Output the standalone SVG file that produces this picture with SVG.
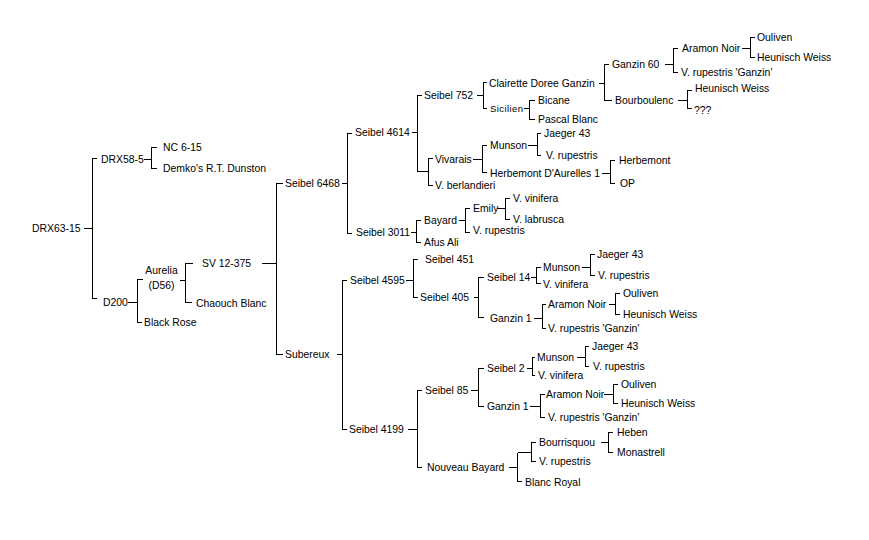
<svg xmlns="http://www.w3.org/2000/svg" width="869" height="540" viewBox="0 0 869 540">
<style>
text{font-family:"Liberation Sans",Arial,sans-serif;font-size:10.4px;fill:#000}
.s{font-size:9.6px;letter-spacing:0.4px}
#connectors path{fill:none;stroke:#000;stroke-width:1;shape-rendering:crispEdges}
</style>
<rect width="869" height="540" fill="#fff"/>
<g id="connectors">
<path d="M84,228.5H92.5M97,158.5H92.5V298.5H97"/>
<path d="M144,159.5H151.5M157,147.5H151.5V168.5H157"/>
<path d="M128,302.5H137.5M143,279.5H137.5V322.5H142"/>
<path d="M180,280.5H185.5M193,263.5H185.5V302.5H192"/>
<path d="M262,263.5H276.5M283,183.5H276.5V354.5H283"/>
<path d="M342,183.5H347.5M352,133.5H347.5V233.5H352"/>
<path d="M412,132.5H417.5M422,95.5H417.5V171.5H428.5M433,158.5H428.5V185.5H433"/>
<path d="M477,95.5H483.5M487,82.5H483.5V108.5H487"/>
<path d="M599,83.5H604.5M609,64.5H604.5V100.5H612"/>
<path d="M665,64.5H673.5M678,48.5H673.5V72.5H678"/>
<path d="M742,48.5H750.5M755,37.5H750.5V57.5H755"/>
<path d="M678,100.5H687.5M692,90.5H687.5V108.5H692"/>
<path d="M524,108.5H529.5M535,100.5H529.5V119.5H535"/>
<path d="M473,159.5H482.5M487,145.5H482.5V172.5H487"/>
<path d="M528,145.5H537.5M541,133.5H537.5V155.5H541"/>
<path d="M602,173.5H610.5M615,160.5H610.5V183.5H615"/>
<path d="M411,232.5H416.5M421,220.5H416.5V242.5H421"/>
<path d="M459,220.5H465.5M470,208.5H465.5V232.5H470"/>
<path d="M497,208.5H505.5M510,198.5H505.5V219.5H510"/>
<path d="M337,354.5H342.5M347,280.5H342.5V429.5H347"/>
<path d="M406,280.5H413.5M418,259.5H413.5V297.5H418"/>
<path d="M474,297.5H478.5M484,277.5H478.5V317.5H484"/>
<path d="M531,277.5H536.5M541,267.5H536.5V283.5H541"/>
<path d="M582,267.5H590.5M595,254.5H590.5V275.5H595"/>
<path d="M534,318.5H542.5M546,304.5H542.5V328.5H546"/>
<path d="M609,304.5H615.5M620,293.5H615.5V314.5H620"/>
<path d="M408,429.5H417.5M422,390.5H417.5V467.5H422"/>
<path d="M471,390.5H478.5M484,368.5H478.5V406.5H484"/>
<path d="M527,368.5H532.5M535,357.5H532.5V375.5H535"/>
<path d="M577,357.5H585.5M589,346.5H585.5V366.5H589"/>
<path d="M530,406.5H540.5M545,394.5H540.5V417.5H545"/>
<path d="M604,394.5H613.5M618,384.5H613.5V403.5H618"/>
<path d="M509,467.5H517.5M517.5,452.5H531.5M536,442.5H531.5V461.5H536M517.5,452.5V481.5H522"/>
<path d="M601,442.5H608.5M613,432.5H608.5V452.5H613"/>
</g>
<g id="n1"><text x="32" y="232">DRX63-15</text></g>
<g id="n2"><text x="101" y="163">DRX58-5</text></g>
<g id="n3"><text x="163" y="151">NC 6-15</text></g>
<g id="n4"><text x="163" y="172">Demko's R.T. Dunston</text></g>
<g id="n5"><text x="103" y="306">D200</text></g>
<g id="n6"><text x="161.5" y="274" text-anchor="middle">Aurelia</text><text x="161.5" y="289" text-anchor="middle">(D56)</text></g>
<g id="n7"><text x="144" y="326">Black Rose</text></g>
<g id="n8"><text x="202" y="267">SV 12-375</text></g>
<g id="n9"><text x="196" y="307">Chaouch Blanc</text></g>
<g id="n10"><text x="285" y="187">Seibel 6468</text></g>
<g id="n11"><text x="355" y="136">Seibel 4614</text></g>
<g id="n12"><text x="424" y="99">Seibel 752</text></g>
<g id="n13"><text x="489" y="87">Clairette Doree Ganzin</text></g>
<g id="n14"><text x="612" y="68">Ganzin 60</text></g>
<g id="n15"><text x="682" y="52">Aramon Noir</text></g>
<g id="n16"><text x="757" y="41">Ouliven</text></g>
<g id="n17"><text x="757" y="61">Heunisch Weiss</text></g>
<g id="n18"><text x="681" y="76">V. rupestris 'Ganzin'</text></g>
<g id="n19"><text x="615" y="104">Bourboulenc</text></g>
<g id="n20"><text x="695" y="92">Heunisch Weiss</text></g>
<g id="n21"><text x="694" y="114">???</text></g>
<g id="n22"><text class="s" x="490" y="112">Sicilien</text></g>
<g id="n23"><text x="538" y="104">Bicane</text></g>
<g id="n24"><text x="538" y="123">Pascal Blanc</text></g>
<g id="n25"><text x="435" y="163">Vivarais</text></g>
<g id="n26"><text x="490" y="149">Munson</text></g>
<g id="n27"><text x="544" y="137">Jaeger 43</text></g>
<g id="n28"><text x="546" y="159">V. rupestris</text></g>
<g id="n29"><text x="490" y="177">Herbemont D'Aurelles 1</text></g>
<g id="n30"><text x="619" y="164">Herbemont</text></g>
<g id="n31"><text x="620" y="187">OP</text></g>
<g id="n32"><text x="435" y="189">V. berlandieri</text></g>
<g id="n33"><text x="356" y="236">Seibel 3011</text></g>
<g id="n34"><text x="424" y="224">Bayard</text></g>
<g id="n35"><text x="473" y="212">Emily</text></g>
<g id="n36"><text x="513" y="202">V. vinifera</text></g>
<g id="n37"><text x="513" y="223">V. labrusca</text></g>
<g id="n38"><text x="473" y="234">V. rupestris</text></g>
<g id="n39"><text x="424" y="246">Afus Ali</text></g>
<g id="n40"><text x="285" y="358">Subereux</text></g>
<g id="n41"><text x="350" y="284">Seibel 4595</text></g>
<g id="n42"><text x="425" y="263">Seibel 451</text></g>
<g id="n43"><text x="420" y="301">Seibel 405</text></g>
<g id="n44"><text x="487" y="281">Seibel 14</text></g>
<g id="n45"><text x="543" y="271">Munson</text></g>
<g id="n46"><text x="597" y="258">Jaeger 43</text></g>
<g id="n47"><text x="598" y="279">V. rupestris</text></g>
<g id="n48"><text x="543" y="288">V. vinifera</text></g>
<g id="n49"><text x="490" y="322">Ganzin 1</text></g>
<g id="n50"><text x="548" y="308">Aramon Noir</text></g>
<g id="n51"><text x="623" y="297">Ouliven</text></g>
<g id="n52"><text x="623" y="318">Heunisch Weiss</text></g>
<g id="n53"><text x="548" y="332">V. rupestris 'Ganzin'</text></g>
<g id="n54"><text x="349" y="433">Seibel 4199</text></g>
<g id="n55"><text x="425" y="394">Seibel 85</text></g>
<g id="n56"><text x="487" y="372">Seibel 2</text></g>
<g id="n57"><text x="537" y="361">Munson</text></g>
<g id="n58"><text x="592" y="350">Jaeger 43</text></g>
<g id="n59"><text x="593" y="370">V. rupestris</text></g>
<g id="n60"><text x="538" y="379">V. vinifera</text></g>
<g id="n61"><text x="487" y="410">Ganzin 1</text></g>
<g id="n62"><text x="546" y="398">Aramon Noir</text></g>
<g id="n63"><text x="621" y="388">Ouliven</text></g>
<g id="n64"><text x="621" y="407">Heunisch Weiss</text></g>
<g id="n65"><text x="548" y="421">V. rupestris 'Ganzin'</text></g>
<g id="n66"><text x="427" y="471">Nouveau Bayard</text></g>
<g id="n67"><text x="539" y="446">Bourrisquou</text></g>
<g id="n68"><text x="617" y="436">Heben</text></g>
<g id="n69"><text x="617" y="456">Monastrell</text></g>
<g id="n70"><text x="539" y="465">V. rupestris</text></g>
<g id="n71"><text x="525" y="486">Blanc Royal</text></g>
</svg>
